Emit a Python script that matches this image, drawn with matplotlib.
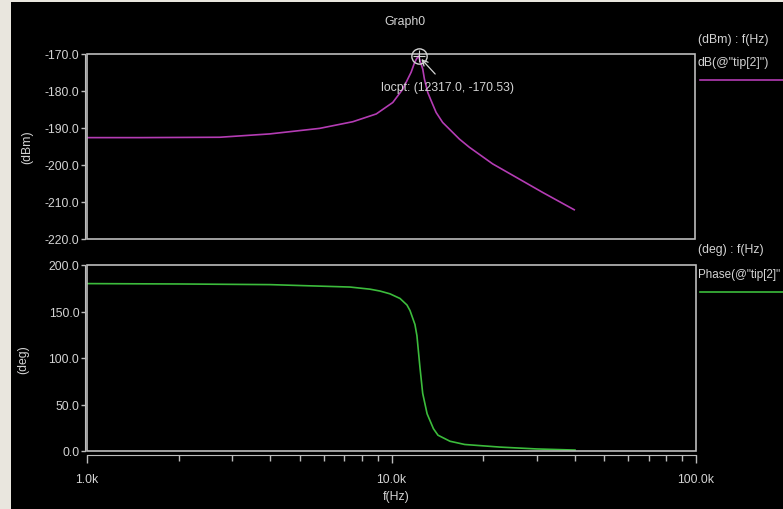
import numpy as np
import matplotlib
matplotlib.use('Agg')
import matplotlib.pyplot as plt
from matplotlib.patches import Rectangle
from matplotlib.lines import Line2D
from matplotlib.ticker import FixedLocator, NullFormatter

# values
mag_freq = [1000, 1500, 2734, 3990, 5825, 7490, 8944, 10137, 10934, 11650, 11945, 12100,
            12317, 12721, 12882, 13210, 13550, 14075, 14790, 15560, 16790, 18100, 21600,
            25780, 31520, 40060]
mag_db = [-192.6, -192.6, -192.5, -191.6, -190.1, -188.3, -186.2, -183.1, -179.5, -174.9, -172.4, -171.5,
          -170.53, -174.1, -176.8, -180.4, -182.6, -185.8, -188.5, -190.3, -193.0, -195.2, -199.7,
          -203.3, -207.4, -212.1]

ph_freq = [1000, 2000, 3990, 7306, 8500, 9166, 9886, 10665, 11240, 11503, 11940, 12120, 12317,
           12400, 12660, 13090, 13730, 14210, 15560, 17400, 22720, 30000, 40060]
ph_deg = [180.0, 179.6, 178.9, 176.3, 174.0, 172.0, 169.0, 164.0, 157.0, 151.0, 136.0, 124.0, 100.0,
          90.0, 62.0, 40.0, 24.0, 17.0, 10.5, 7.0, 4.2, 2.2, 1.0]

peak_f, peak_db = 12317.0, -170.53

mag_ticks = [-220, -210, -200, -190, -180, -170]
ph_ticks = [0, 50, 100, 150, 200]
x_major = [1e3, 1e4, 1e5]
x_labels = ['1.0k', '10.0k', '100.0k']

BG = 'black'
FG = '#d4d4d4'
FRAME = '#bcbcbc'
MAG_C = '#b43cb4'
PH_C = '#3cbc3c'
FS = 8.8

plt.rcParams['font.family'] = ['Liberation Sans', 'DejaVu Sans']

W, H = 783, 510
fig = plt.figure(figsize=(W / 100, H / 100), dpi=100)
fig.patch.set_facecolor('#e9e6de')
fig.add_artist(Rectangle((11 / W, 0), 1, 1 - 3 / H, transform=fig.transFigure,
                         facecolor=BG, edgecolor='none', zorder=0))


def px(x0, y0, x1, y1):
    return [x0 / W, 1 - y1 / H, (x1 - x0) / W, (y1 - y0) / H]


ax1 = fig.add_axes(px(87, 55, 695, 240))
ax2 = fig.add_axes(px(87, 266, 696, 452))

for ax in (ax1, ax2):
    ax.set_facecolor(BG)
    ax.set_xscale('log')
    ax.set_xlim(1e3, 1e5)
    for s in ax.spines.values():
        s.set_visible(False)
    ax.spines['left'].set_visible(True)
    ax.spines['left'].set_color(FRAME)
    ax.spines['left'].set_position(('outward', 1.5))
    ax.add_patch(Rectangle((0, 0), 1, 1, transform=ax.transAxes, fill=False,
                           edgecolor=FRAME, lw=1.2, clip_on=False, zorder=3))
    ax.tick_params(axis='y', colors=FRAME, labelcolor=FG, labelsize=FS,
                   direction='out', length=3, width=1, pad=1)

ax1.plot(mag_freq, mag_db, color=MAG_C, lw=1.2)
ax1.set_ylim(-220, -170)
ax1.yaxis.set_major_locator(FixedLocator(mag_ticks))
ax1.set_yticklabels(['%.1f' % v for v in mag_ticks])
ax1.tick_params(axis='x', which='both', bottom=False, labelbottom=False)

# marker at the peak
ax1.plot([peak_f], [peak_db], marker='o', ms=11, mfc='none', mec=FG, mew=1, clip_on=False, zorder=5)
ax1.plot([peak_f], [peak_db], marker='+', ms=8, color=FG, mew=0.8, clip_on=False, zorder=5)
ax1.annotate('', xy=(peak_f, peak_db), xytext=(12, -13), textcoords='offset points',
             arrowprops=dict(arrowstyle='->', color=FG, lw=0.9, shrinkA=0, shrinkB=3),
             annotation_clip=False)
ax1.text(9300, -178.9, 'locpt: (%.1f, %.2f)' % (peak_f, peak_db), color=FG, fontsize=FS,
         va='center', ha='left')

ax2.plot(ph_freq, ph_deg, color=PH_C, lw=1.2)
ax2.set_ylim(0, 200)
ax2.yaxis.set_major_locator(FixedLocator(ph_ticks))
ax2.set_yticklabels(['%.1f' % v for v in ph_ticks])
ax2.spines['bottom'].set_visible(True)
ax2.spines['bottom'].set_color(FRAME)
ax2.spines['bottom'].set_position(('outward', 3))
ax2.xaxis.set_major_locator(FixedLocator(x_major))
ax2.set_xticklabels(x_labels)
ax2.xaxis.set_minor_locator(FixedLocator([k * 10 ** e for e in (3, 4) for k in range(2, 10)]))
ax2.xaxis.set_minor_formatter(NullFormatter())
ax2.tick_params(axis='x', which='major', colors=FRAME, labelcolor=FG, labelsize=FS,
                direction='out', length=5.5, width=1, pad=7)
ax2.tick_params(axis='x', which='minor', colors=FRAME, direction='out', length=4, width=1)

fig.text(405 / W, 1 - 22 / H, 'Graph0', color=FG, fontsize=FS, ha='center', va='center')
fig.text(396 / W, 1 - 497 / H, 'f(Hz)', color=FG, fontsize=FS, ha='center', va='center')
fig.text(27 / W, 1 - 147 / H, '(dBm)', color=FG, fontsize=FS, ha='center', va='center', rotation=90)
fig.text(23 / W, 1 - 360 / H, '(deg)', color=FG, fontsize=FS, ha='center', va='center', rotation=90)

# legend area on the right (the phase label is cut at the window edge in the original)
fig.text(698 / W, 1 - 40 / H, '(dBm) : f(Hz)', color=FG, fontsize=FS, va='center')
fig.text(698 / W, 1 - 63 / H, 'dB(@"tip[2]")', color=FG, fontsize=FS, va='center')
fig.add_artist(Line2D([700 / W, 1], [1 - 81 / H] * 2, color=MAG_C, lw=1.2, transform=fig.transFigure))
fig.text(698 / W, 1 - 250 / H, '(deg) : f(Hz)', color=FG, fontsize=FS, va='center')
fig.text(698 / W, 1 - 275 / H, 'Phase(@"tip[2]"', color=FG, fontsize=8.4, va='center')
fig.add_artist(Line2D([700 / W, 1], [1 - 293 / H] * 2, color=PH_C, lw=1.2, transform=fig.transFigure))

fig.savefig('out.png', dpi=100, facecolor=fig.get_facecolor())
